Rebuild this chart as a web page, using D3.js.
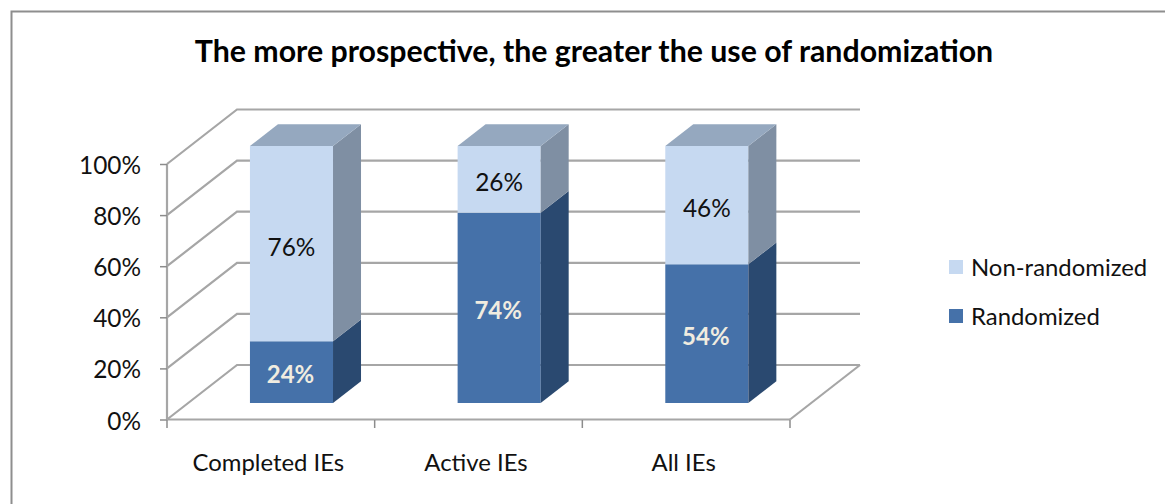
<!DOCTYPE html>
<html><head><meta charset="utf-8">
<script src="https://cdn.jsdelivr.net/npm/d3@7"></script>
<style>html,body{margin:0;padding:0;background:#fff}svg{display:block}text{font-family:Lato,"Open Sans",sans-serif;fill:#111}</style>
</head><body><svg id="c" width="1165" height="504"></svg>
<script>
const categories = ["Completed IEs","Active IEs","All IEs"];
const randomized = [24,74,54];
const nonRandomized = [76,26,46];
const yTicks = [0,20,40,60,80,100];
const legendLabels = ["Non-randomized","Randomized"];
const title = "The more prospective, the greater the use of randomization";

const svg = d3.select("#c");
const defs = svg.append("defs");
defs.append("filter").attr("id","soft").attr("x","-5%").attr("y","-5%").attr("width","110%").attr("height","110%")
  .append("feGaussianBlur").attr("stdDeviation",0.6);

const x = d3.scaleBand().domain(categories).range([167,790]).paddingInner(0).paddingOuter(0);
const y = d3.scaleLinear().domain([0,100]).range([419.5,164]);
const yBar = d3.scaleLinear().domain([0,100]).range([403,146]);
const barW = x.step()*0.4;
const DX=70, DY=54.5, d0=0.295, d1=0.695;
const px=(vx,d)=>vx+DX*d, py=(vy,d)=>vy-DY*d;

svg.append("path").attr("d","M11.5,1000V11.5H1200").attr("fill","none").attr("stroke","#8e8e8e").attr("stroke-width",2);

svg.append("text").attr("x",594).attr("y",62).attr("text-anchor","middle")
  .attr("font-size",30.3).attr("font-weight",700).style("fill","#000").text(title);

// walls
const grid = svg.append("g").attr("filter","url(#soft)").attr("fill","none").attr("stroke","#a6a6a6").attr("stroke-width",2.2);
yTicks.forEach(t=>{
  const line=d3.line()([[167,y(t)],[px(167,1),py(y(t),1)],[px(790,1),py(y(t),1)]]);
  grid.append("path").attr("d",line);
});
grid.append("path").attr("d",d3.line()([[790,y(0)],[px(790,1),py(y(0),1)]]));
grid.append("path").attr("d",d3.line()([[167,y(0)],[790,y(0)]]));
grid.append("path").attr("d",d3.line()([[167,y(0)],[167,y(100)]]));

// axes
const axisY = d3.axisLeft(y).tickValues(yTicks).tickFormat(d=>d+"%").tickSize(7).tickPadding(18);
const gy = svg.append("g").attr("transform","translate(167,0)").call(axisY);
gy.select(".domain").remove();
gy.selectAll("line").attr("stroke","#8c8c8c").attr("stroke-width",1.5);
gy.selectAll("text").attr("font-size",24.4).attr("dy","0.39em").attr("dx",-1);

const axisX = d3.axisBottom(x).tickSize(0).tickPadding(34);
const gx = svg.append("g").attr("transform","translate(0,419.5)").call(axisX);
gx.select(".domain").remove();
gx.selectAll("text").attr("font-size",23.9).attr("dx",-2.5).attr("dy","0.72em");
const edges = categories.map(c=>x(c)).concat([x.range()[1]]);
svg.append("g").selectAll("line").data(edges).join("line")
  .attr("x1",d=>d).attr("x2",d=>d).attr("y1",420).attr("y2",428)
  .attr("stroke","#8c8c8c").attr("stroke-width",1.5);

// bars
const colors = {
  r:{front:"#4571A9",side:"#2C4A70",top:"#4571A9"},
  n:{front:"#C6D9F1",side:"#7F8FA3",top:"#95A8BF"}
};
const poly = pts=>d3.line()(pts)+"Z";
const bars = svg.append("g").attr("filter","url(#soft)");
const labels = svg.append("g");
categories.forEach((c,i)=>{
  const xl = x(c)+x.step()/2-barW/2, xr = xl+barW;
  const segs=[{k:"r",a:0,b:randomized[i]},{k:"n",a:randomized[i],b:randomized[i]+nonRandomized[i]}];
  segs.forEach(s=>{
    const col=colors[s.k];
    const fL=px(xl,d0), fR=px(xr,d0), bd=d1-d0;
    const ya=yBar(s.a), yb=yBar(s.b);
    bars.append("path").attr("d",poly([[fL,ya],[fR,ya],[fR,yb],[fL,yb]])).attr("fill",col.front);
    bars.append("path").attr("d",poly([[fR,ya],[px(fR,bd),py(ya,bd)],[px(fR,bd),py(yb,bd)],[fR,yb]])).attr("fill",col.side);
    if(s.k==="n") bars.append("path").attr("d",poly([[fL,yb],[fR,yb],[px(fR,bd),py(yb,bd)],[px(fL,bd),py(yb,bd)]])).attr("fill",col.top);
    labels.append("text").attr("x",(fL+fR)/2+(s.k==="r"?-1:0)).attr("y",(ya+yb)/2+(s.k==="r"?11:12))
      .attr("text-anchor","middle").attr("font-size",s.k==="r"?24:24.4).attr("font-weight",s.k==="r"?700:400)
      .style("fill",s.k==="r"?"#f0ece0":"#111").text((s.b-s.a)+"%");
  });
});

// legend
const lg = svg.append("g");
legendLabels.forEach((t,i)=>{
  const ly=[267,316][i];
  lg.append("rect").attr("x",949).attr("y",ly-7).attr("width",14).attr("height",14)
    .attr("fill",i===0?colors.n.front:colors.r.front);
  lg.append("text").attr("x",971).attr("y",ly+9).attr("font-size",23.9).text(t);
});
</script></body></html>
